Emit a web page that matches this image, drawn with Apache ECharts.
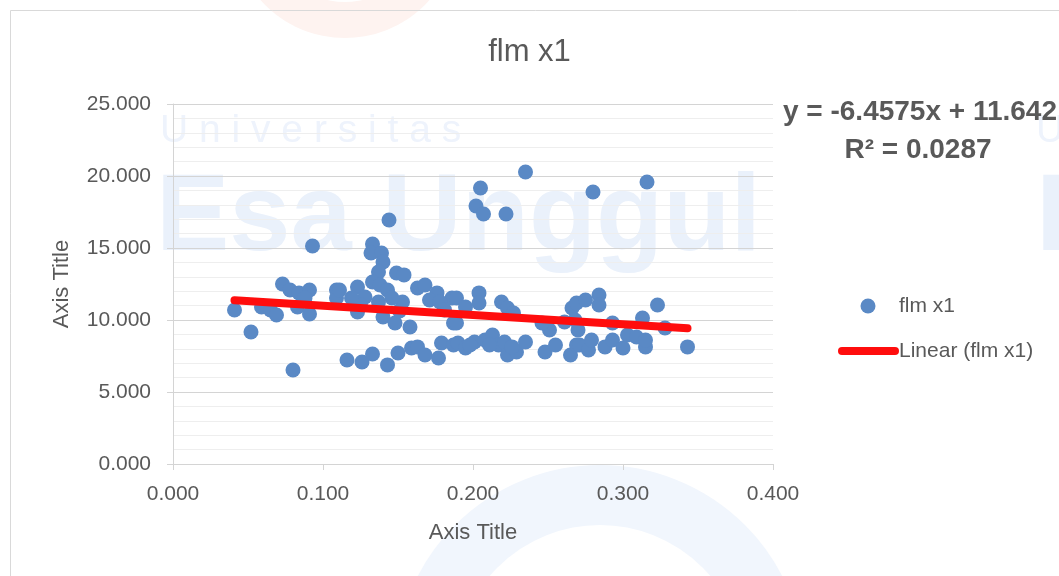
<!DOCTYPE html>
<html>
<head>
<meta charset="utf-8">
<script src="https://cdn.jsdelivr.net/npm/echarts@6/dist/echarts.min.js"></script>
<style>
html,body{margin:0;padding:0;background:#fff;}
#chart{width:1059px;height:576px;}
</style>
</head>
<body>
<div id="chart"></div>
<script>
// ---- data ----
const xValues = [
  0.041,0.052,0.080,0.073,0.078,0.084,0.091,0.088,0.059,0.065,
  0.069,0.083,0.091,0.093,0.109,0.109,0.111,0.116,0.123,0.123,
  0.126,0.133,0.133,0.132,0.139,0.140,0.137,0.133,0.138,0.143,
  0.137,0.140,0.143,0.144,0.149,0.154,0.153,0.148,0.150,0.158,
  0.159,0.163,0.168,0.163,0.168,0.176,0.177,0.179,0.186,0.187,
  0.187,0.128,0.146,0.151,0.125,0.171,0.178,0.181,0.119,0.189,
  0.195,0.204,0.204,0.189,0.219,0.223,0.227,0.190,0.195,0.201,
  0.208,0.213,0.217,0.221,0.223,0.229,0.235,0.248,0.255,0.251,
  0.246,0.266,0.269,0.265,0.269,0.198,0.211,0.226,0.275,0.284,
  0.284,0.270,0.271,0.277,0.293,0.288,0.293,0.300,0.303,0.313,
  0.315,0.309,0.323,0.328,0.343,0.315,0.279,0.261,0.268,0.235,
  0.205,0.202,0.207,0.222,0.280,0.316
];
const yValues = [
  10.69,9.17,6.53,12.50,12.08,11.88,12.08,11.53,10.90,10.69,
  10.35,10.90,10.42,15.14,12.08,11.53,12.08,7.22,12.29,10.56,
  7.08,7.64,15.28,14.65,14.65,14.03,13.33,12.64,12.43,12.08,
  11.25,10.21,6.88,16.94,13.26,13.13,11.25,9.79,7.71,9.51,
  8.06,8.13,7.57,12.22,12.43,11.88,7.36,8.40,11.53,9.79,
  8.26,11.60,11.53,10.63,11.04,11.39,11.25,10.70,11.53,11.53,
  10.90,11.88,11.18,9.79,11.25,10.83,10.49,8.40,8.06,8.47,
  8.61,8.96,8.26,8.47,7.57,7.78,8.47,7.78,8.26,9.31,
  9.79,10.83,11.18,7.57,8.26,8.26,8.26,8.13,11.39,11.74,
  11.04,9.31,8.26,7.92,9.79,8.13,8.61,8.06,8.96,10.14,
  8.13,8.82,11.04,9.44,8.13,8.61,8.61,9.86,10.00,20.28,
  19.17,17.92,17.36,17.36,18.89,19.58
];
// trendline end points
const trendX = [0.041, 0.343];
const trendY = [11.377, 9.428];
const xTicks = [0, 0.1, 0.2, 0.3, 0.4];
const yTicks = [0, 5, 10, 15, 20, 25];
const titleText = 'flm x1';
const seriesName = 'flm x1';
const trendName = 'Linear (flm x1)';
const equationText = 'y = -6.4575x + 11.642';
const r2Text = 'R² = 0.0287';
const axisTitleX = 'Axis Title';
const axisTitleY = 'Axis Title';

const FONT = "'Liberation Sans', Arial, sans-serif";
const TXT = '#595959';

const scatterData = xValues.map((x, i) => [x, yValues[i]]);
const trendData = trendX.map((x, i) => [x, trendY[i]]);

const chart = echarts.init(document.getElementById('chart'), null, {renderer: 'canvas'});
chart.setOption({
  backgroundColor: '#ffffff',
  animation: false,
  title: {
    text: titleText, left: 'center', top: 32,
    textStyle: {fontFamily: FONT, fontSize: 31, fontWeight: 'normal', color: TXT}
  },
  grid: {left: 173, top: 104, right: 286, bottom: 112, containLabel: false},
  xAxis: {
    type: 'value', min: 0, max: 0.4, interval: 0.1,
    axisLine: {show: true, lineStyle: {color: '#d4d4d4', width: 1}},
    axisTick: {show: true, length: 6, lineStyle: {color: '#d4d4d4'}},
    splitLine: {show: false},
    axisLabel: {
      margin: 20, color: TXT, fontFamily: FONT, fontSize: 21,
      formatter: v => v.toFixed(3)
    }
  },
  yAxis: {
    type: 'value', min: 0, max: 25, interval: 5,
    axisLine: {show: true, lineStyle: {color: '#d4d4d4', width: 1}},
    axisTick: {show: true, length: 6, lineStyle: {color: '#d4d4d4'}},
    splitLine: {show: true, lineStyle: {color: '#d4d4d4', width: 1}},
    minorTick: {show: false, splitNumber: 5},
    minorSplitLine: {show: true, lineStyle: {color: '#eeeeee', width: 1}},
    axisLabel: {
      margin: 22, color: TXT, fontFamily: FONT, fontSize: 21,
      formatter: v => v.toFixed(3)
    }
  },
  series: [
    {
      name: seriesName, type: 'scatter', data: scatterData,
      symbol: 'circle', symbolSize: 15,
      itemStyle: {color: '#5a89c5', opacity: 1},
      z: 2
    },
    {
      name: trendName, type: 'line', data: trendData,
      symbol: 'none', smooth: false,
      lineStyle: {color: '#ff0d0d', width: 8, cap: 'round'},
      z: 3
    }
  ],
  graphic: [
    // faint watermark
    {type: 'text', z: -10, silent: true, left: 160, top: 112,
      style: {text: 'U n i v e r s i t a s', fontFamily: FONT, fontSize: 39, fill: '#eef3fc'}},
    {type: 'text', z: -10, silent: true, left: 1036, top: 112,
      style: {text: 'U n i v e r s i t a s', fontFamily: FONT, fontSize: 39, fill: '#eef3fc'}},
    {type: 'text', z: -10, silent: true, left: 156, top: 165,
      style: {text: 'Esa Unggul', fontFamily: FONT, fontSize: 110, fontWeight: 'bold', fill: '#eaf1fb'}},
    {type: 'text', z: -10, silent: true, left: 1036, top: 165,
      style: {text: 'Esa Unggul', fontFamily: FONT, fontSize: 110, fontWeight: 'bold', fill: '#eaf1fb'}},
    {type: 'arc', z: -11, silent: true,
      shape: {cx: 600, cy: 670, r: 175, startAngle: Math.PI, endAngle: 2 * Math.PI},
      style: {stroke: '#f1f6fd', lineWidth: 60, fill: null}},
    {type: 'arc', z: -11, silent: true,
      shape: {cx: 345, cy: -75, r: 95, startAngle: 0.2, endAngle: Math.PI - 0.35},
      style: {stroke: '#fef3f0', lineWidth: 36, fill: null}},
    // chart border
    {type: 'rect', z: 10, silent: true,
      shape: {x: 10.5, y: 10.5, width: 1100, height: 700},
      style: {stroke: '#d9d9d9', lineWidth: 1, fill: null}},
    // axis titles
    {type: 'text', z: 10, x: 473, y: 533,
      style: {text: axisTitleX, fontFamily: FONT, fontSize: 22, fill: TXT, textAlign: 'center', textVerticalAlign: 'middle'}},
    {type: 'text', z: 10, x: 62, y: 284, rotation: Math.PI / 2,
      style: {text: axisTitleY, fontFamily: FONT, fontSize: 22, fill: TXT, textAlign: 'center', textVerticalAlign: 'middle'}},
    // trendline equation
    {type: 'text', z: 10, x: 1057, y: 112,
      style: {text: equationText, fontFamily: FONT, fontSize: 28, fontWeight: 'bold', fill: TXT, textAlign: 'right', textVerticalAlign: 'middle'}},
    {type: 'text', z: 10, x: 918, y: 150,
      style: {text: r2Text, fontFamily: FONT, fontSize: 28, fontWeight: 'bold', fill: TXT, textAlign: 'center', textVerticalAlign: 'middle'}},
    // legend
    {type: 'circle', z: 10, shape: {cx: 868, cy: 306, r: 7.5}, style: {fill: '#5a89c5'}},
    {type: 'text', z: 10, x: 899, y: 306,
      style: {text: seriesName, fontFamily: FONT, fontSize: 21, fill: TXT, textAlign: 'left', textVerticalAlign: 'middle'}},
    {type: 'line', z: 10, shape: {x1: 842, y1: 351, x2: 895, y2: 351},
      style: {stroke: '#ff0d0d', lineWidth: 8, lineCap: 'round'}},
    {type: 'text', z: 10, x: 899, y: 351,
      style: {text: trendName, fontFamily: FONT, fontSize: 21, fill: TXT, textAlign: 'left', textVerticalAlign: 'middle'}}
  ]
});
</script>
</body>
</html>
